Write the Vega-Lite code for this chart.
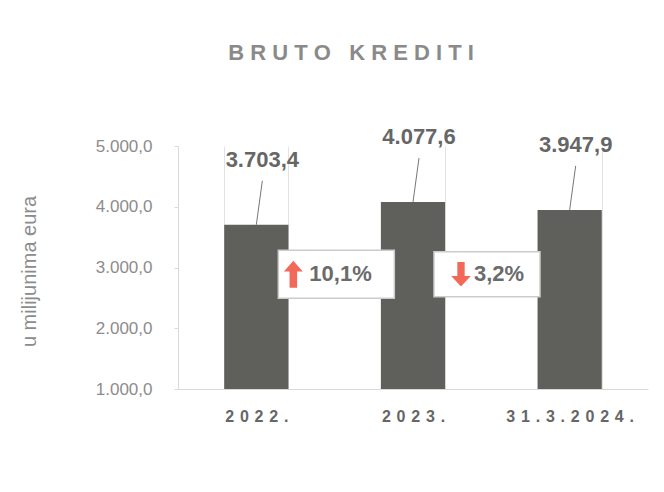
{
  "$schema": "https://vega.github.io/schema/vega-lite/v6.json",
  "width": 470,
  "height": 243,
  "autosize": "none",
  "padding": {"left": 178, "top": 146, "right": 16, "bottom": 103},
  "background": "white",
  "config": {
    "font": "Liberation Sans",
    "view": {"stroke": null},
    "locale": {"number": {"decimal": ",", "thousands": ".", "grouping": [3], "currency": ["", " €"]}}
  },
  "title": {
    "text": "B R U T O \u00a0 K R E D I T I",
    "fontSize": 22,
    "fontWeight": "bold",
    "color": "#8a8a8a",
    "anchor": "middle",
    "frame": "group",
    "baseline": "alphabetic",
    "dx": -62,
    "offset": 44
  },
  "data": {
    "values": [
      {"cat": "2022.", "value": 3703.4},
      {"cat": "2023.", "value": 4077.6},
      {"cat": "31.3.2024.", "value": 3947.9}
    ]
  },
  "encoding": {
    "x": {
      "field": "cat",
      "type": "nominal",
      "sort": null,
      "scale": {"paddingInner": 0.59, "paddingOuter": 0.295},
      "axis": {
        "title": null,
        "labelAngle": 0,
        "labelExpr": "join(split(datum.label, ''), ' \u200a')",
        "labelFont": "Liberation Sans",
        "labelFontSize": 16,
        "labelFontWeight": "bold",
        "labelColor": "#666666",
        "labelPadding": 19,
        "labelOverlap": false,
        "ticks": false,
        "domainColor": "#d9d9d9",
        "grid": true,
        "gridColor": "#e3e3e3",
        "tickBand": "extent"
      }
    }
  },
  "layer": [
    {
      "mark": {"type": "bar", "color": "#5f605c"},
      "encoding": {
        "y": {
          "field": "value",
          "type": "quantitative",
          "scale": {"domain": [1000, 5000], "zero": false, "nice": false},
          "axis": {
            "values": [1000, 2000, 3000, 4000, 5000],
            "format": ",.1f",
            "grid": false,
            "domainColor": "#d9d9d9",
            "tickColor": "#d9d9d9",
            "tickSize": 4,
            "labelFontSize": 17,
            "labelColor": "#8c8c8c",
            "labelPadding": 22,
            "title": "u milijunima eura",
            "titleFontSize": 20,
            "titleFontWeight": "normal",
            "titleColor": "#8c8c8c",
            "titleAngle": -90,
            "titleBaseline": "middle",
            "titleAlign": "center",
            "titleX": -149,
            "titleY": 125
          }
        },
        "y2": {"datum": 1000}
      }
    },
    {
      "mark": {"type": "rule", "color": "#777777", "strokeWidth": 1, "x2Offset": 6, "y2Offset": -44},
      "encoding": {
        "x2": {"field": "cat"},
        "y": {"field": "value", "type": "quantitative"},
        "y2": {"field": "value"}
      }
    },
    {
      "mark": {"type": "text", "fontSize": 22, "fontWeight": "bold", "color": "#666666", "dy": -65, "dx": 6, "baseline": "middle"},
      "encoding": {
        "y": {"field": "value", "type": "quantitative"},
        "text": {"field": "value", "type": "quantitative", "format": ",.1f"}
      }
    },
    {
      "data": {"values": [
        {"cat": "2022.", "pct": "10,1%", "dir": "up"},
        {"cat": "2023.", "pct": "3,2%", "dir": "down"}
      ]},
      "layer": [
        {
          "mark": {"type": "point", "filled": true, "fill": "#ffffff", "stroke": "#cccccc", "strokeWidth": 1.5, "opacity": 1,
            "xOffset": {"expr": "datum.dir == 'up' ? 80 : 74"}},
          "encoding": {
            "y": {"datum": 2890, "type": "quantitative"},
            "shape": {"condition": {"test": "datum.dir == 'up'", "value": "M-1,-0.414H1V0.414H-1Z"}, "value": "M-1,-0.4245H1V0.4245H-1Z"},
            "size": {"condition": {"test": "datum.dir == 'up'", "value": 13456}, "value": 11236}
          }
        },
        {
          "mark": {"type": "point", "filled": true, "color": "#f2695a", "opacity": 1,
            "xOffset": {"expr": "datum.dir == 'up' ? 37 : 48"}},
          "encoding": {
            "y": {"datum": 2890, "type": "quantitative"},
            "shape": {"condition": {"test": "datum.dir == 'up'", "value": "M0,-1L0.7,-0.2L0.28,-0.2L0.28,1L-0.28,1L-0.28,-0.2L-0.7,-0.2Z"}, "value": "M0,1L0.8,0.15L0.3,0.15L0.3,-1L-0.3,-1L-0.3,0.15L-0.8,0.15Z"},
            "size": {"condition": {"test": "datum.dir == 'up'", "value": 729}, "value": 600}
          }
        },
        {
          "mark": {"type": "text", "align": "left", "baseline": "middle", "fontSize": 22, "fontWeight": "bold", "color": "#6b6b6b",
            "xOffset": {"expr": "datum.dir == 'up' ? 53 : 61"}},
          "encoding": {
            "y": {"datum": 2890, "type": "quantitative"},
            "text": {"field": "pct", "type": "nominal"}
          }
        }
      ]
    }
  ]
}
